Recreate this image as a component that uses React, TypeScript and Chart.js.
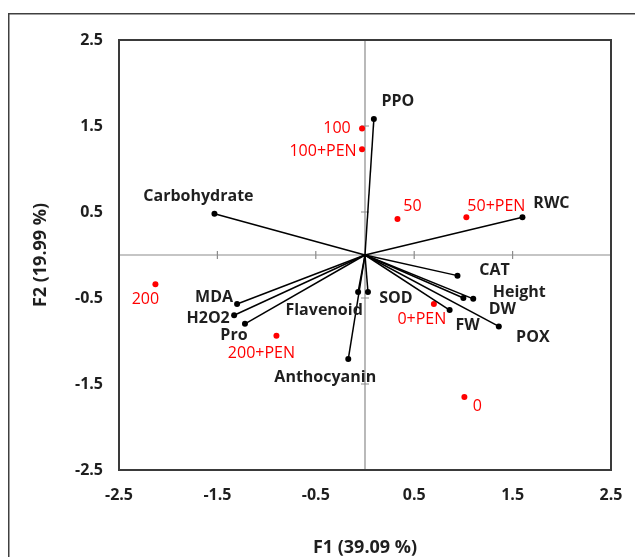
import React, { useEffect, useRef } from "react";
import { Chart, registerables } from "chart.js";

Chart.register(...registerables);

// Variables (loadings) – drawn as vectors from origin
const variableNames = ["PPO", "Carbohydrate", "RWC", "CAT", "Height", "DW", "FW", "POX", "SOD", "Flavenoid", "Anthocyanin", "MDA", "H2O2", "Pro"];
const variableF1 = [0.09, -1.53, 1.6, 0.94, 1.1, 1.0, 0.86, 1.36, 0.03, -0.07, -0.17, -1.3, -1.33, -1.22];
const variableF2 = [1.58, 0.48, 0.44, -0.24, -0.51, -0.5, -0.64, -0.83, -0.43, -0.43, -1.21, -0.57, -0.7, -0.8];

// Observations (treatments)
const treatmentNames = ["100", "100+PEN", "50", "50+PEN", "0+PEN", "0", "200", "200+PEN"];
const treatmentF1 = [-0.03, -0.03, 0.33, 1.03, 0.7, 1.01, -2.13, -0.9];
const treatmentF2 = [1.47, 1.23, 0.42, 0.44, -0.57, -1.65, -0.34, -0.94];

const axisTicks = [-2.5, -1.5, -0.5, 0.5, 1.5, 2.5];
const xTitle = "F1 (39.09 %)";
const yTitle = "F2 (19.99 %)";

// label placement (pixel offsets from point, label centred)
const labelOffsets: Record<string, [number, number]> = {
  PPO: [24, -18],
  Carbohydrate: [-16, -17],
  RWC: [29, -14],
  CAT: [37, -5],
  Height: [46, -6],
  DW: [39, 11],
  FW: [18, 15],
  POX: [34, 11],
  SOD: [28, 6],
  Flavenoid: [-34, 18],
  Anthocyanin: [-23, 18],
  MDA: [-23, -7],
  H2O2: [-26, 3],
  Pro: [-11, 12],
  "100": [-25, 0],
  "100+PEN": [-39, 2],
  "50": [15, -12],
  "50+PEN": [30, -11],
  "0+PEN": [-12, 15],
  "0": [13, 10],
  "200": [-10, 15],
  "200+PEN": [-15, 18],
};

const FONT = "'Open Sans', 'DejaVu Sans', sans-serif";

export default function App() {
  const ref = useRef<HTMLCanvasElement | null>(null);

  useEffect(() => {
    if (!ref.current) return;

    const varSets = variableNames.map((name, i) => ({
      label: name,
      data: [
        { x: 0, y: 0 },
        { x: variableF1[i], y: variableF2[i] },
      ],
      showLine: true,
      borderColor: "#000000",
      borderWidth: 1.5,
      backgroundColor: "#000000",
      pointRadius: [0, 3],
      pointBorderWidth: 0,
      labelColor: "#1f1f1f",
      labelBold: true,
    }));

    const obsSets = treatmentNames.map((name, i) => ({
      label: name,
      data: [{ x: treatmentF1[i], y: treatmentF2[i] }],
      showLine: false,
      borderColor: "#ff0000",
      backgroundColor: "#ff0000",
      pointRadius: 3,
      pointBorderWidth: 0,
      labelColor: "#ff0000",
      labelBold: false,
    }));

    const framePlugin = {
      id: "frame",
      beforeDraw(chart: any) {
        const { ctx, chartArea, scales } = chart;
        ctx.save();
        // outer frame (left & top)
        ctx.strokeStyle = "#404040";
        ctx.lineWidth = 1.5;
        ctx.beginPath();
        ctx.moveTo(8.75, chart.height + 2);
        ctx.lineTo(8.75, 13.75);
        ctx.lineTo(chart.width + 2, 13.75);
        ctx.stroke();
        // zero lines
        const x0 = scales.x.getPixelForValue(0);
        const y0 = scales.y.getPixelForValue(0);
        ctx.strokeStyle = "#8c8c8c";
        ctx.lineWidth = 1.2;
        ctx.beginPath();
        ctx.moveTo(x0, chartArea.top);
        ctx.lineTo(x0, chartArea.bottom);
        ctx.moveTo(chartArea.left, y0);
        ctx.lineTo(chartArea.right, y0);
        // tick marks on zero lines
        for (const t of axisTicks) {
          const py = scales.y.getPixelForValue(t);
          ctx.moveTo(x0 - 4, py);
          ctx.lineTo(x0 + 4, py);
          const px = scales.x.getPixelForValue(t);
          ctx.moveTo(px, y0 - 4);
          ctx.lineTo(px, y0 + 4);
        }
        ctx.stroke();
        ctx.restore();
      },
      afterDraw(chart: any) {
        const { ctx, chartArea } = chart;
        ctx.save();
        ctx.strokeStyle = "#3a3a3a";
        ctx.lineWidth = 2;
        ctx.strokeRect(chartArea.left, chartArea.top, chartArea.right - chartArea.left, chartArea.bottom - chartArea.top);
        ctx.restore();
      },
    };

    const labelPlugin = {
      id: "pointLabels",
      afterDatasetsDraw(chart: any) {
        const { ctx } = chart;
        ctx.save();
        ctx.textAlign = "center";
        ctx.textBaseline = "middle";
        chart.data.datasets.forEach((ds: any, di: number) => {
          const meta = chart.getDatasetMeta(di);
          const el = meta.data[meta.data.length - 1];
          if (!el) return;
          const off = labelOffsets[ds.label] || [0, 0];
          ctx.fillStyle = ds.labelColor;
          ctx.font = `${ds.labelBold ? "700" : "400"} 16px ${FONT}`;
          ctx.fillText(ds.label, el.x + off[0], el.y + off[1]);
        });
        ctx.restore();
      },
    };

    const chart = new Chart(ref.current, {
      type: "scatter",
      data: { datasets: [...varSets, ...obsSets] as any },
      options: {
        animation: false,
        responsive: false,
        maintainAspectRatio: false,
        layout: { padding: { left: 0, top: 40, right: 24, bottom: 0 } },
        plugins: {
          legend: { display: false },
          tooltip: { enabled: false },
        },
        scales: {
          x: {
            type: "linear",
            min: -2.5,
            max: 2.5,
            afterBuildTicks: (s: any) => {
              s.ticks = axisTicks.map((v) => ({ value: v }));
            },
            afterFit: (s: any) => {
              s.height = 87;
              s.paddingLeft = 0;
              s.paddingRight = 0;
            },
            grid: { display: false, drawTicks: false },
            border: { display: false },
            ticks: {
              padding: 16,
              color: "#1f1f1f",
              font: { family: FONT, size: 16, weight: "bold" },
              callback: (v: any) => String(v),
            },
            title: {
              display: true,
              text: xTitle,
              color: "#1f1f1f",
              font: { family: FONT, size: 18, weight: "bold" },
              padding: { top: 0, bottom: -2 },
            },
          },
          y: {
            type: "linear",
            min: -2.5,
            max: 2.5,
            afterBuildTicks: (s: any) => {
              s.ticks = axisTicks.map((v) => ({ value: v }));
            },
            afterFit: (s: any) => {
              s.width = 119;
              s.paddingTop = 0;
              s.paddingBottom = 0;
            },
            grid: { display: false, drawTicks: false },
            border: { display: false },
            ticks: {
              padding: 16,
              color: "#1f1f1f",
              font: { family: FONT, size: 16, weight: "bold" },
              callback: (v: any) => String(v),
            },
            title: {
              display: true,
              text: yTitle,
              color: "#1f1f1f",
              font: { family: FONT, size: 18, weight: "bold" },
              padding: { top: 30, bottom: 0 },
            },
          },
        },
      },
      plugins: [framePlugin, labelPlugin],
    });

    return () => chart.destroy();
  }, []);

  return (
    <div style={{ position: "fixed", left: 0, top: 0, width: 635, height: 557, background: "#ffffff" }}>
      <canvas ref={ref} width={635} height={557} style={{ display: "block", width: 635, height: 557 }} />
    </div>
  );
}
